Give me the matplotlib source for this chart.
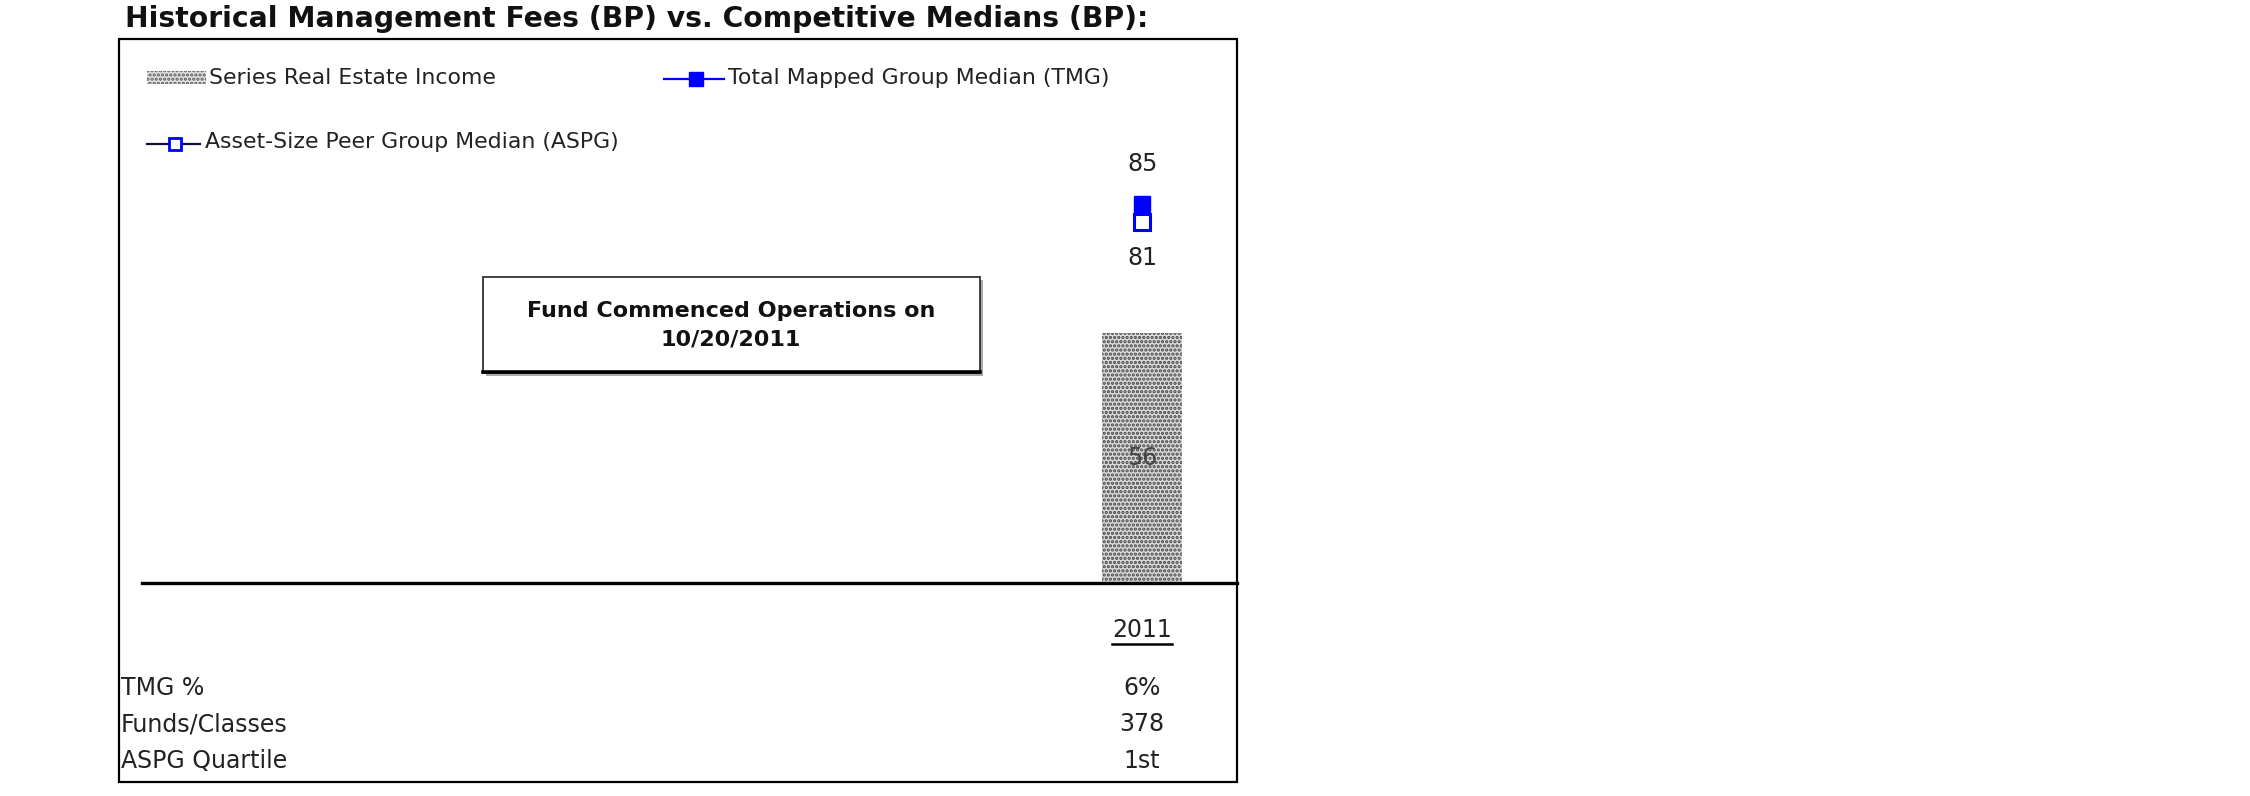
import matplotlib
matplotlib.use("Agg")
import matplotlib.pyplot as plt
from matplotlib.lines import Line2D
from matplotlib.patches import Rectangle
from matplotlib.transforms import blended_transform_factory

# data
years = ["2011"]
fund_fees = [56]        # Series Real Estate Income (BP)
tmg_median = [85]       # Total Mapped Group Median
aspg_median = [81]      # Asset-Size Peer Group Median
row_labels = ["TMG %", "Funds/Classes", "ASPG Quartile"]
tmg_pct = ["6%"]
funds_classes = ["378"]
aspg_quartile = ["1st"]

W, H = 2250, 796
fig = plt.figure(figsize=(W / 100, H / 100), dpi=100)
plt.rcParams['hatch.linewidth'] = 1.6


def fx(px):
    return px / W


def fy(py):
    return 1 - py / H


BLUE = "#0000ff"
TXT = "#222222"

# outer frame
fig.add_artist(Rectangle((fx(119), fy(782)), fx(1237) - fx(119), fy(39) - fy(782),
                         fill=False, lw=1.6, ec="black", transform=fig.transFigure))

fig.text(fx(125), fy(19), "Historical Management Fees (BP) vs. Competitive Medians (BP):",
         fontsize=20.3, fontweight="bold", va="center", ha="left", color="#111111")

# plot area
ax = fig.add_axes([fx(142), fy(583), fx(1237) - fx(142), fy(39) - fy(583)])
ax.set_ylim(0, (583 - 39) / 4.46)
ax.set_xlim(-8.75, 0.83)
ax.axis("off")

x = list(range(len(years)))
ax.bar(x, fund_fees, width=0.7, color="#dadada", edgecolor="#444444",
       hatch="....", linewidth=0, zorder=2)
ax.plot(x, tmg_median, "s", color=BLUE, ms=12, mec=BLUE, zorder=4)
ax.plot(x, aspg_median, "s", color=BLUE, ms=11, mfc="white", mec=BLUE, mew=2.2, zorder=5)
ax.axhline(0, color="black", lw=2.4, zorder=6, clip_on=False)

for xi, v in zip(x, tmg_median):
    ax.annotate(str(v), (xi, v), xytext=(0, 29), textcoords="offset points",
                ha="center", va="center", fontsize=17, color=TXT)
for xi, v in zip(x, aspg_median):
    ax.annotate(str(v), (xi, v), xytext=(0, -26), textcoords="offset points",
                ha="center", va="center", fontsize=17, color=TXT)
for xi, v in zip(x, fund_fees):
    ax.text(xi, v / 2, str(v), ha="center", va="center", fontsize=17, color="#444444", zorder=3)

# annotation box
fig.add_artist(Rectangle((fx(486), fy(376)), fx(980) - fx(483), fy(277) - fy(373),
                         fc="#aaaaaa", ec="none", transform=fig.transFigure))
fig.add_artist(Rectangle((fx(483), fy(373)), fx(980) - fx(483), fy(277) - fy(373),
                         fc="white", ec="#333333", lw=1.3, transform=fig.transFigure))
fig.add_artist(Line2D([fx(483), fx(980)], [fy(372), fy(372)], color="black", lw=2.6,
                      transform=fig.transFigure))
fig.text(fx(731), fy(325), "Fund Commenced Operations on\n10/20/2011", ha="center", va="center",
         fontsize=16, fontweight="bold", color="#111111", linespacing=1.55)

# legend, drawn by hand to keep the reference layout
fig.add_artist(Rectangle((fx(147), fy(84)), fx(206) - fx(147), fy(71) - fy(84),
                         fc="#e6e6e6", ec="#555555", lw=0, hatch="....",
                         transform=fig.transFigure))
fig.text(fx(209), fy(78), "Series Real Estate Income", fontsize=15.8, va="center", color=TXT)

fig.add_artist(Line2D([fx(664), fx(724)], [fy(79), fy(79)], color=BLUE, lw=1.6,
                      transform=fig.transFigure))
fig.add_artist(Line2D([fx(696)], [fy(79)], color=BLUE, marker="s", ms=10, ls="none",
                      transform=fig.transFigure))
fig.text(fx(728), fy(78), "Total Mapped Group Median (TMG)", fontsize=15.8, va="center", color=TXT)

fig.add_artist(Line2D([fx(147), fx(200)], [fy(144), fy(144)], color="#111133", lw=1.6,
                      transform=fig.transFigure))
fig.add_artist(Line2D([fx(175)], [fy(144)], marker="s", ms=9, mfc="white", mec=BLUE,
                      mew=2, ls="none", transform=fig.transFigure))
fig.text(fx(205), fy(142), "Asset-Size Peer Group Median (ASPG)", fontsize=15.8, va="center",
         color=TXT)

# table under the chart
tr = blended_transform_factory(ax.transData, fig.transFigure)
year_texts = []
for xi, yr in zip(x, years):
    year_texts.append(ax.text(xi, fy(630), yr, transform=tr, ha="center", va="center",
                              fontsize=17, color=TXT, clip_on=False))

row_y = [688, 724, 761]
for lab, yy in zip(row_labels, row_y):
    fig.text(fx(121), fy(yy), lab, fontsize=17, va="center", ha="left", color=TXT)
for vals, yy in zip([tmg_pct, funds_classes, aspg_quartile], row_y):
    for xi, v in zip(x, vals):
        ax.text(xi, fy(yy), v, transform=tr, ha="center", va="center", fontsize=17,
                color=TXT, clip_on=False)

# underline the year labels
fig.canvas.draw()
renderer = fig.canvas.get_renderer()
for t in year_texts:
    bb = t.get_window_extent(renderer)
    fig.add_artist(Line2D([bb.x0 / W, bb.x1 / W], [fy(644), fy(644)], color="black", lw=1.8,
                          transform=fig.transFigure))

fig.savefig("out.png", dpi=100)
